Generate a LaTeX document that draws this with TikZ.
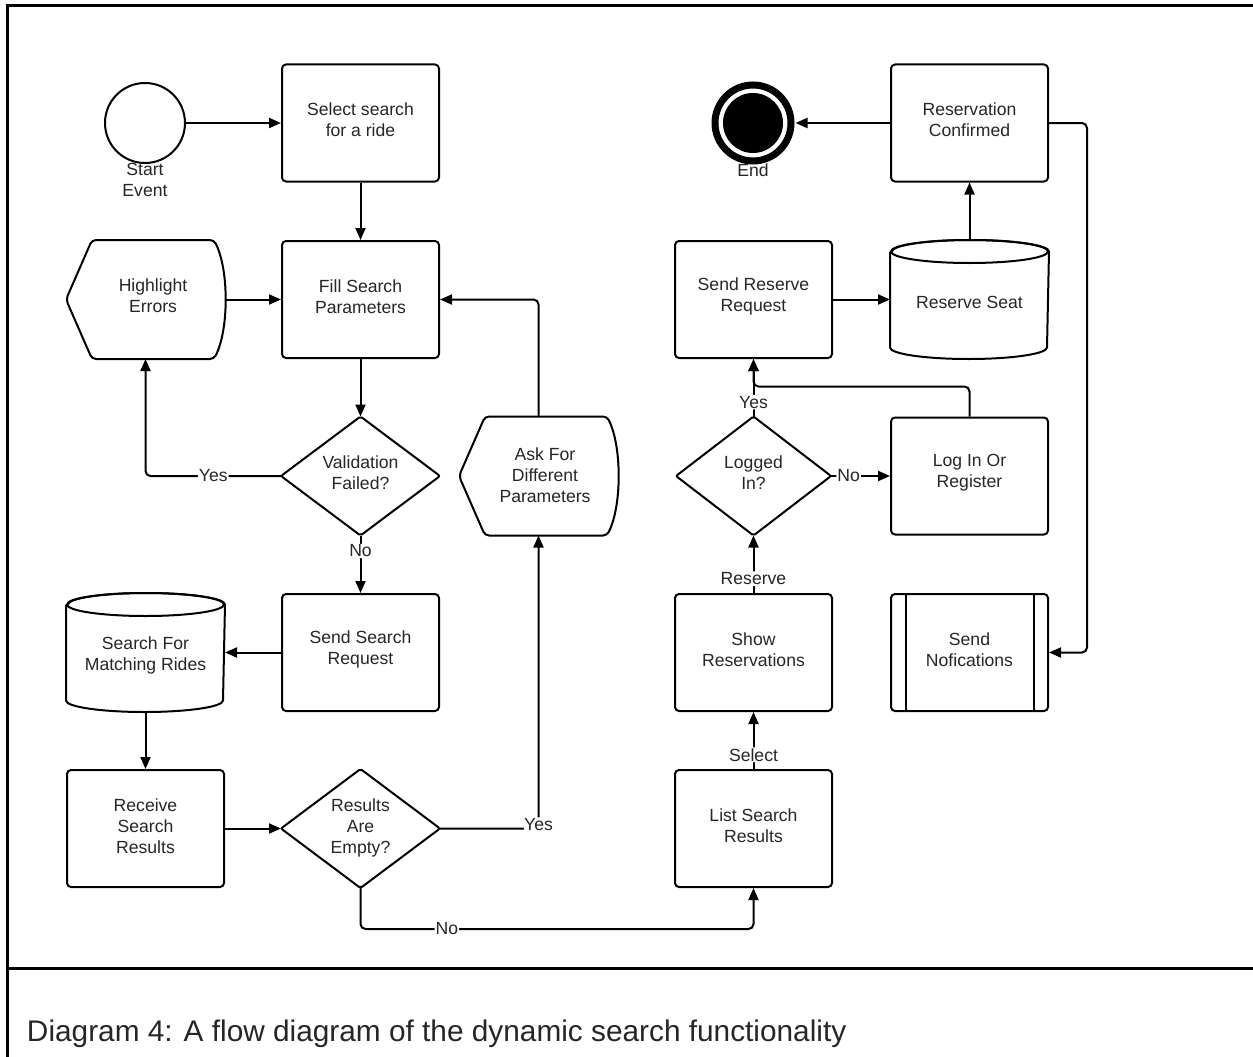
\documentclass[tikz,border=0pt]{standalone}
\usepackage{fontspec}
\setmainfont{Liberation Sans}
\usetikzlibrary{arrows.meta}
\newcommand\nodefont{\fontsize{17.6}{21}\selectfont}
\newcommand\capfont{\fontsize{29.8}{34}\selectfont}

\begin{document}
\begin{tikzpicture}[x=1pt,y=-1pt,
  line width=2pt,
  every node/.style={text=black!85},
  shapebase/.style={minimum width=157pt, minimum height=117pt, inner sep=0pt},
  txt/.style={align=center, font=\nodefont, inner sep=0pt},
  box/.style={shapebase, draw, rounded corners=4pt},
  flow/.style={-{Triangle[length=12pt,width=10pt]}, rounded corners=5pt},
  lbl/.style={font=\nodefont, fill=white, inner sep=1pt},
]
\useasboundingbox (0,0) rectangle (1253,1057);

% frame and caption rule
\draw[line width=3pt] (7,1057) -- (7,6) -- (1253,6);
\draw[line width=3pt] (7,968) -- (1253,968);
\node[anchor=west, font=\capfont, inner sep=0pt] (cap) at (26,1034)
  {Diagram 4: A flow diagram of the dynamic search functionality};

% start and end events
\node[circle, draw, minimum size=80pt, inner sep=0pt] (start) at (145,123) {};
\node[txt] (start-l) at (145,180) {Start\\Event};
\node[circle, minimum size=83pt, inner sep=0pt] (endc) at (753,123) {};
\fill (endc.center) circle[radius=30pt];
\draw[line width=7pt] (endc.center) circle[radius=38pt];
\node[txt] (end-l) at (753,170) {End};

% process boxes, each with its text set slightly above centre
\node[box] (sel) at (360.5,123) {};
\node[txt] (sel-t) at (360.5,120) {Select search\\for a ride};
\node[box] (fill) at (360.5,299.5) {};
\node[txt] (fill-t) at (360.5,296.5) {Fill Search\\Parameters};
\node[box] (ssr) at (360.5,652.5) {};
\node[txt] (ssr-t) at (360.5,649.5) {Send Search\\Request};
\node[box] (rsr) at (145.5,828.5) {};
\node[txt] (rsr-t) at (145.5,826.5) {Receive\\Search\\Results};
\node[box] (lsr) at (753.5,828.5) {};
\node[txt] (lsr-t) at (753.5,825.5) {List Search\\Results};
\node[box] (shr) at (753.5,652.5) {};
\node[txt] (shr-t) at (753.5,649.5) {Show\\Reservations};
\node[box] (srr) at (753.5,299.5) {};
\node[txt] (srr-t) at (753.5,296.5) {Send Reserve\\Request};
\node[box] (lir) at (969.5,476) {};
\node[txt] (lir-t) at (969.5,473) {Log In Or\\Register};
\node[box] (rc) at (969.5,123) {};
\node[txt] (rc-t) at (969.5,120) {Reservation\\Confirmed};
\node[box] (sn) at (969.5,652.5) {};
\node[txt] (sn-t) at (969.5,649.5) {Send\\Nofications};
\draw ([xshift=16pt]sn.north west) -- ([xshift=16pt]sn.south west);
\draw ([xshift=-15pt]sn.north east) -- ([xshift=-15pt]sn.south east);

% decisions
\node[shapebase] (val) at (360.5,476) {};
\node[txt] (val-t) at (360.5,473) {Validation\\Failed?};
\node[shapebase] (rae) at (360.5,828.5) {};
\node[txt] (rae-t) at (360.5,828) {Results\\Are\\Empty?};
\node[shapebase, minimum width=153pt] (logged) at (753.5,476) {};
\node[txt] (logged-t) at (753.5,473) {Logged\\In?};
\foreach \d in {val,rae,logged}
  \draw[rounded corners=2pt] (\d.west) -- (\d.north) -- (\d.east) -- (\d.south) -- cycle;

% display shapes
\node[shapebase] (hl) at (145.5,299.5) {};
\node[txt] (hl-t) at (153,296) {Highlight\\Errors};
\node[shapebase] (ask) at (538.5,476) {};
\node[txt] (ask-t) at (545,475) {Ask For\\Different\\Parameters};
\foreach \d in {hl,ask}
  \draw[rounded corners=4pt] ([xshift=26pt]\d.north west) -- ([xshift=-11pt]\d.north east)
    .. controls ([xshift=4pt,yshift=-30pt]\d.north east) and ([xshift=4pt,yshift=30pt]\d.south east)
    .. ([xshift=-11pt]\d.south east) -- ([xshift=26pt]\d.south west) -- (\d.west) -- cycle;

% stores
\node[shapebase] (smr) at (145.5,652.5) {};
\node[txt] (smr-t) at (145.5,655) {Search For\\Matching Rides};
\node[shapebase] (rs) at (969.5,299.5) {};
\node[txt] (rs-t) at (969.5,302) {Reserve Seat};
\foreach \d in {smr,rs} {
  \draw ([yshift=-11.5pt]\d.north west) -- ([yshift=11.5pt]\d.south west)
    arc[start angle=180, end angle=360, x radius=78.5pt, y radius=11.5pt]
    -- ([yshift=-11.5pt]\d.north east)
    arc[start angle=0, end angle=180, x radius=78.5pt, y radius=11.5pt];
  \draw ([yshift=-11.5pt]\d.north) ellipse[x radius=78.5pt, y radius=11.5pt];
}

% connectors
\draw[flow] (start) -- (sel);
\draw[flow] (sel) -- (fill);
\draw[flow] (hl.east) -- (fill.west);
\draw[flow] (fill) -- (val.north);
\draw[flow] (val.west) -| node[lbl, pos=0.25] {Yes} (hl.south);
\draw[flow] (val.south) -- node[lbl, pos=0.27] {No} (ssr.north);
\draw[flow] (ssr.west) -- (smr.east);
\draw[flow] (smr.south) -- (rsr.north);
\draw[flow] (rsr.east) -- (rae.west);
\draw[flow] (rae.east) -| node[lbl, pos=0.5, yshift=4pt] {Yes} (ask.south);
\draw[flow] (ask.north) |- (fill.east);
\draw[flow] (rae.south) -- ++(0,41) -| node[lbl, pos=0.11] {No} (lsr.south);
\draw[flow] (lsr.north) -- node[lbl, pos=0.25] {Select} (shr.south);
\draw[flow] (shr.north) -- node[lbl, pos=0.25] {Reserve} (logged.south);
\draw[flow] (logged.east) -- node[lbl, pos=0.3] {No} (lir.west);
\draw[flow] (logged.north) -- node[lbl, pos=0.25] {Yes} (srr.south);
\draw[flow] (lir.north) -- ++(0,-30) -| (srr.south);
\draw[flow] (srr.east) -- (rs.west);
\draw[flow] (rs.north) -- (rc.south);
\draw[flow] (rc.west) -- (endc);
\draw[flow] (rc.east) -- ++(38,0) |- (sn.east);
\end{tikzpicture}
\end{document}
